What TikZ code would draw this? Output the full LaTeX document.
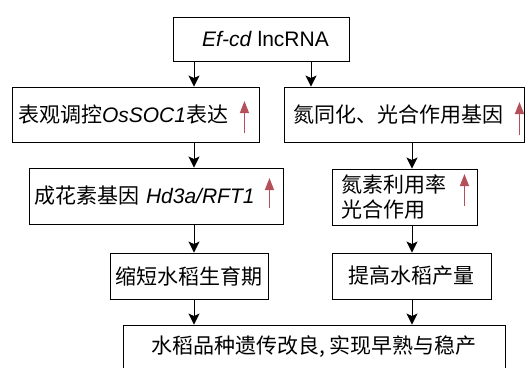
\documentclass[tikz,border=0pt]{standalone}
\usepackage{fontspec}
\setmainfont{Noto Sans CJK SC}
\newfontfamily\latinfont{Liberation Sans}
\usepackage{tikz}
\usetikzlibrary{arrows.meta,calc}
\definecolor{uparrowred}{HTML}{B3505A}
\newcommand{\genename}[1]{{\latinfont\itshape #1}}
\tikzset{
  flowbox/.style={draw=black,line width=0.9pt,align=center,inner sep=0pt,
    font=\fontsize{21}{25}\selectfont},
  markbox/.style={flowbox,align=left,minimum height=55pt},
  flowarrow/.style={-{Stealth[length=11pt,width=11pt,inset=2.5pt]},line width=1pt},
  upmark/.style={-{Triangle[length=12pt,width=9pt]},draw=uparrowred,line width=1.3pt}
}

\begin{document}
\begin{tikzpicture}[x=1pt,y=-1pt]
  \clip (0,0) rectangle (526,367);
  \node[flowbox,minimum width=176pt,minimum height=44pt] (lncrna) at (261,39)
    {\hspace*{9pt}{\latinfont\textit{Ef-cd} lncRNA}};
  \node[markbox,text width=235pt,inner xsep=6pt] (ossoc) at (135.5,114.5)
    {表观调控\genename{OsSOC1}表达};
  \node[markbox,text width=222pt,inner xsep=9pt] (nitrogen) at (404,114.5)
    {氮同化、光合作用基因};
  \node[markbox,text width=244pt,inner xsep=5pt,minimum height=56pt] (florigen) at (156,196)
    {成花素基因 \genename{Hd3a/RFT1}};
  \node[markbox,text width=127pt,inner xsep=9pt,minimum height=56pt] (nue) at (404.5,197)
    {氮素利用率\\光合作用};
  \node[flowbox,minimum width=158pt,minimum height=46pt] (shorten) at (189,276) {缩短水稻生育期};
  \node[flowbox,minimum width=159pt,minimum height=46pt] (yield) at (411.5,276) {提高水稻产量};
  \node[flowbox,minimum width=382pt,minimum height=44pt] (breeding) at (314,347)
    {水稻品种遗传改良, 实现早熟与稳产};

  \coordinate (leftcol) at (194,0);
  \coordinate (topright) at (311,0);
  \coordinate (rightcol) at (412,0);

  \draw[flowarrow] (lncrna.south -| leftcol) -- (ossoc.north -| leftcol);
  \draw[flowarrow] (lncrna.south -| topright) -- (nitrogen.north -| topright);
  \draw[flowarrow] (ossoc.south -| leftcol) -- (florigen.north -| leftcol);
  \draw[flowarrow] (nitrogen.south -| rightcol) -- (nue.north -| rightcol);
  \draw[flowarrow] (florigen.south -| leftcol) -- (shorten.north -| leftcol);
  \draw[flowarrow] (nue.south -| rightcol) -- (yield.north -| rightcol);
  \draw[flowarrow] (shorten.south -| leftcol) -- (breeding.north -| leftcol);
  \draw[flowarrow] (yield.south -| rightcol) -- (breeding.north -| rightcol);

  \draw[upmark] ([shift={(-15,18.5)}]ossoc.east) -- ++(0,-32);
  \draw[upmark] ([shift={(-5,20.5)}]nitrogen.east) -- ++(0,-33);
  \draw[upmark] ([shift={(-14,12)}]florigen.east) -- ++(0,-30);
  \draw[upmark] ([shift={(-13,9)}]nue.east) -- ++(0,-32);
\end{tikzpicture}
\end{document}
